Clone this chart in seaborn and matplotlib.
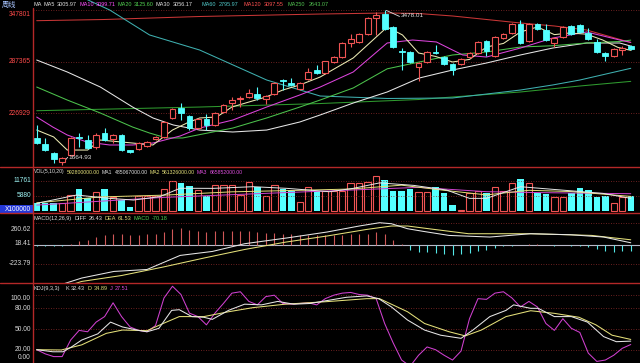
import matplotlib
matplotlib.use("Agg")
import matplotlib.pyplot as plt
import numpy as np
import pandas as pd
import seaborn as sns
from matplotlib.lines import Line2D
from matplotlib.patches import Rectangle

# ---------------- data (weekly bars) ----------------
opens = [1981, 1910, 1805, 1700, 1782, 1992, 1957, 1875, 2039, 1969,
         2016, 1840, 1852, 1887, 1969, 1992, 2214, 2331, 2238, 2097,
         2203, 2133, 2285, 2390, 2437, 2460, 2495, 2437, 2495, 2655,
         2624, 2554, 2671, 2776, 2741, 2870, 2928, 3092, 3104, 3197,
         3384, 3431, 3279, 2998, 2987, 2811, 2870, 2987, 2928, 2846,
         2846, 2928, 2975, 3115, 2940, 3150, 3209, 3314, 3115, 3314,
         3244, 3092, 3162, 3291, 3302, 3209, 3104, 2975, 2940, 3010, 3057]
highs = [2133, 1980, 1815, 1760, 1995, 2039, 2016, 2039, 2097, 2030,
         2030, 1845, 1930, 1945, 2004, 2180, 2330, 2390, 2250, 2215,
         2262, 2285, 2378, 2460, 2470, 2554, 2577, 2480, 2630, 2671,
         2682, 2635, 2800, 2835, 2885, 2945, 3100, 3197, 3210, 3395,
         3455, 3478.01, 3290, 3033, 3000, 2870, 3000, 3069, 2940, 2860,
         2915, 2990, 3115, 3125, 3175, 3210, 3325, 3361, 3325, 3330,
         3314, 3160, 3290, 3300, 3314, 3267, 3140, 2987, 3035, 3060, 3065]
lows = [1915, 1830, 1690, 1664.93, 1770, 1875, 1852, 1852, 1945, 1922,
        1830, 1810, 1845, 1880, 1957, 1985, 2205, 2191, 2075, 2085,
        2080, 2120, 2273, 2308, 2343, 2450, 2420, 2378, 2485, 2542,
        2590, 2545, 2660, 2725, 2730, 2858, 2915, 3045, 3090, 3185,
        3186, 3245, 3035, 2776, 2860, 2647, 2860, 2965, 2835, 2718,
        2835, 2915, 2965, 2940, 2930, 3140, 3200, 3080, 3105, 3240,
        3115, 3040, 3150, 3185, 3210, 3130, 2975, 2881, 2930, 2950, 3015]
closes = [1922, 1840, 1735, 1746, 1980, 1980, 1863, 2016, 1957, 2016,
          1840, 1817, 1922, 1934, 1992, 2167, 2320, 2273, 2097, 2203,
          2133, 2273, 2367, 2425, 2448, 2507, 2448, 2472, 2624, 2642,
          2600, 2624, 2753, 2741, 2876, 2928, 3092, 3139, 3197, 3384,
          3420, 3256, 3045, 2987, 2870, 2858, 2987, 2975, 2846, 2776,
          2905, 2975, 3104, 2998, 3162, 3197, 3314, 3092, 3314, 3256,
          3127, 3150, 3279, 3197, 3221, 3139, 2987, 2940, 3022, 3030, 3022]
volumes = [2875, 2875, 2875, 2875, 6143, 8496, 5097, 7450, 8365, 5228,
           4182, 1307, 5751, 5751, 5751, 8365, 11763, 10717, 9672, 8103,
           5751, 10064, 10064, 10064, 6143, 11110, 9410, 5751, 10064, 8365,
           7842, 3529, 9410, 7842, 7842, 7842, 7842, 10717, 10717, 11371,
           13593, 12024, 7842, 7842, 8365, 7450, 7450, 9410, 6796, 2222,
           261, 6796, 7842, 7058, 9149, 7842, 10717, 12417, 10717, 7058,
           6535, 5228, 5228, 7058, 8757, 8103, 5228, 5751, 2875, 5489, 5928]

# moving averages of price (sampled along the bar index)
ma5_idx = [0, 2, 3.6, 6, 7.5, 11.3, 13.7, 16, 17.7, 19.2, 21.2, 23, 27, 29, 31, 33.4, 37.3,
           41.3, 43.1, 45, 47, 49, 51, 53, 55, 57, 59, 61, 62.8, 64.8, 66.7, 68.5, 70]
ma5_val = [2074, 1993, 1840, 1840, 1957, 1922, 1899, 2074, 2156, 2215, 2226, 2343, 2460, 2542,
           2601, 2694, 2917, 3279, 3186, 2975, 2935, 2870, 2900, 3045, 3087, 3221, 3279, 3190,
           3209, 3195, 3127, 3040, 3005.97]
ma10_idx = [0, 1.9, 3.6, 5.9, 8.6, 11.3, 13.7, 16.9, 19.2, 23.1, 27.1, 31, 33.4, 37.3, 41.3,
            44.3, 47.1, 49, 50.2, 53, 57, 60.8, 64.8, 68.7, 70]
ma10_val = [2226, 2109, 2016, 1934, 1899, 1899, 1922, 2004, 2097, 2191, 2343, 2484, 2577, 2753,
            3092, 3127, 3104, 3010, 2952, 2928, 3033, 3150, 3221, 3127, 3099.71]
ma20_idx = [0, 3.6, 7.5, 11.3, 13.3, 15.3, 17.2, 23.1, 27.1, 31, 33.4, 37.3, 41.3, 45.1, 49,
            53, 57, 60.8, 64.8, 68.7, 70]
ma20_val = [2577, 2425, 2273, 2109, 2039, 1981, 1981, 2097, 2215, 2343, 2425, 2566, 2790, 2870,
            2952, 2987, 3045, 3060, 3092, 3110, 3125.60]
ma30_idx = [0, 3.6, 7.5, 11.3, 13.7, 16.1, 19.2, 23.1, 27.1, 31, 33.4, 37.3, 41.3, 45.1, 49,
            53, 57, 60.8, 64.8, 68.7, 70]
ma30_val = [2893, 2753, 2577, 2343, 2215, 2133, 2074, 2051, 2074, 2168, 2250, 2390, 2519, 2683,
            2776, 2858, 2952, 3033, 3092, 3092, 3056.17]
ma60_idx = [0, 4, 8.6, 13.3, 19.2, 27.1, 33.4, 41.3, 49, 53, 57, 60.8, 64, 70]
ma60_val = [3888, 3689, 3478, 3186, 3010, 2659, 2472, 2443, 2449, 2495, 2542, 2601, 2659, 2795.97]
ma120_idx = [0, 8, 19.2, 33.4, 41.3, 45, 49, 53, 57, 61, 64.8, 70]
ma120_val = [3353, 3367, 3402, 3431, 3443, 3437, 3408, 3367, 3326, 3291, 3244, 3097.55]
ma250_idx = [0, 19.2, 33.4, 45, 57, 64, 70]
ma250_val = [2300, 2343, 2384, 2431, 2519, 2589, 2643.07]

# volume moving averages (x100000)
vma1_idx = [0, 4.7, 8.6, 11.4, 14.5, 16.9, 20.8, 25.5, 29.5, 34.5, 37.3, 40.4, 44.4, 48.3, 51,
            53, 57, 62.8, 66.7, 70]
vma1_val = [2875, 6143, 4836, 4182, 5489, 8800, 8757, 9410, 8757, 7450, 8757, 10900, 9933, 8103,
            4836, 4836, 9400, 7842, 6796, 4850.67]
vma2_idx = [0, 7.5, 15, 23, 31, 37, 43, 48, 53, 58, 63, 70]
vma2_val = [3100, 5400, 6100, 7400, 8000, 8500, 10000, 8000, 6200, 8000, 7500, 5613.26]
vma3_idx = [0, 15, 27, 37, 45, 53, 60, 70]
vma3_val = [2200, 5228, 6800, 8100, 9150, 7450, 7058, 6658.52]

# MACD(12,26,9)
macd_hist = [-10, -8, -12, -6, 16, 47, 63, 94, 114, 126,
             126, 114, 114, 126, 134, 153, 193, 201, 173, 161,
             153, 161, 165, 165, 165, 161, 153, 142, 142, 134,
             126, 114, 114, 114, 114, 114, 114, 126, 126, 134,
             153, 126, 63, 16, -55, -83, -83, -94, -102, -122,
             -102, -94, -71, -55, -31, -16, -8, 5, 8, 6,
             -4, -6, 3, -10, -15, -20, -43, -71, -83, -71, -70.18]
diff_idx = [0, 5.3, 9.1, 13, 16.9, 20.7, 24.5, 29.4, 34.2, 38, 40.4, 41.8, 43.7, 45.6, 48.6,
            53.4, 58.2, 62.9, 66.8, 70]
diff_val = [-560, -390, -312, -289, -123, -76, 15, 82, 153, 224, 263, 251, 192, 160, 113,
            94, 133, 121, 94, 26.43]
dea_idx = [0, 5.3, 10, 14.9, 19.7, 24.5, 29.4, 34.2, 38.9, 41.8, 43.7, 46.2, 50.9, 58.2, 65.4, 70]
dea_val = [-600, -430, -360, -260, -154, -53, 35, 106, 184, 224, 224, 192, 133, 133, 113, 61.53]

# KDJ(9,3,3)
k_idx = [0, 1.9, 3.1, 4.1, 5.3, 7.2, 8.7, 10.1, 12, 13, 14.4, 15.9, 16.8, 18.3, 19.7, 20.7,
         22.6, 24.5, 26.5, 28.4, 30.3, 32.2, 34.1, 36.5, 38.9, 40.3, 41.8, 43.7, 45.7, 47.6,
         50, 51.4, 53.4, 55.3, 56.2, 58.2, 59.1, 61, 63, 64.9, 66.8, 68.3, 70]
k_val = [20, 17, 17, 24, 34, 43, 60, 53, 48, 46, 51, 77, 78, 68, 67, 64, 77, 86, 85, 90, 86,
         87, 91, 96, 98, 94, 82, 63, 48.5, 41, 36.5, 48.5, 68, 77, 85, 80, 80, 68, 68, 60, 39,
         31.6, 32.43]
d_idx = [0, 2.9, 5.3, 8.2, 10.1, 13, 14.9, 16.8, 19.7, 22.6, 25.5, 29.3, 34.1, 38.9, 40.4,
         43.7, 45.7, 48.6, 50.5, 52.4, 55.3, 58.2, 61, 63.9, 65.9, 67.8, 70]
d_val = [20, 19.6, 27, 43.7, 48.5, 47.6, 58, 68, 68, 75, 81, 86, 89.6, 94, 94, 75, 58, 46, 40,
         48.5, 68, 76.5, 72.7, 67, 56, 41, 34.89]
j_val = [20, 14, 10, 10, 34, 48, 46, 60, 68, 88,
         68, 53, 48, 46, 55, 95, 112, 100, 73, 68,
         56, 73, 87, 102, 104, 90, 85, 97, 99, 87,
         86, 87, 88, 85, 94, 99, 102, 103, 100, 99,
         94, 58, 30, 5, -4, 12, 24, 20, 12, 5,
         18, 65, 94, 93, 102, 104, 95, 82, 90, 82,
         58, 48, 65, 51, 45, 15, 3, 5, 12, 22, 27.51]

# axis tick labels
price_ticks = [3478.01, 2873.65, 2269.29]
price_labels = ["347801", "287365", "226929"]
vol_ticks = [11761, 5880]
macd_ticks = [260.62, 18.41, -223.79]
kdj_ticks = [100, 80, 50, 20, 0]

# ---------------- drawing ----------------
W, H = 640, 363
sns.set_style("dark")
FONT = ['Liberation Sans', 'DejaVu Sans']
plt.rcParams['font.family'] = FONT

RED = '#f05454'
CYAN = '#54ffff'
GRIDC = '#8c2a2a'
SEP = '#b42828'

fig = plt.figure(figsize=(6.4, 3.63), dpi=100, facecolor='black')
renderer = fig.canvas.get_renderer()


def px_axes(y0, y1, x0=33, x1=640):
    ax = fig.add_axes([x0 / W, 1 - y1 / H, (x1 - x0) / W, (y1 - y0) / H])
    ax.set_facecolor('black')
    ax.grid(False)
    for s in ax.spines.values():
        s.set_visible(False)
    ax.set_xticks([])
    ax.set_yticks([])
    return ax


def ftext(x, y, s, color, size=4.6, ha='left', va='center', family=None, **kw):
    return fig.text(x / W, 1 - y / H, s, color=color, fontsize=size, ha=ha, va=va,
                    family=family or FONT, **kw)


def text_row(y, segments, size, gap=2.0):
    end = 0
    for xx, s, col in segments:
        xx = max(xx, end + gap)
        t = ftext(xx, y, s, col, size=size)
        bb = t.get_window_extent(renderer=renderer)
        end = bb.x1


XL = (-0.436, 71.09)
ax_main = px_axes(0, 167)
ax_vol = px_axes(167, 213)
ax_macd = px_axes(213, 283)
ax_kdj = px_axes(283, 363)

ax_main.set_ylim(1641.6, 3595.0)
ax_vol.set_ylim(-902, 17133)
ax_macd.set_ylim(-448.4, 377.6)
ax_kdj.set_ylim(0.72, 116.7)

n = len(closes)
x = np.arange(n)
o = np.array(opens, float)
c = np.array(closes, float)
hi = np.array(highs, float)
lo = np.array(lows, float)
up = c >= o
top = np.maximum(o, c)
bot = np.minimum(o, c)
bw = 0.68

# grid lines
for p in price_ticks:
    ax_main.axhline(p, color=GRIDC, lw=0.6, ls=(0, (1, 2)))
for v in vol_ticks:
    ax_vol.axhline(v, color=GRIDC, lw=0.6, ls=(0, (1, 2)))
for v in [260.62, -223.79]:
    ax_macd.axhline(v, color=GRIDC, lw=0.6, ls=(0, (1, 2)))
for v in [100, 80, 50, 20]:
    ax_kdj.axhline(v, color=GRIDC, lw=0.6, ls=(0, (1, 2)))

# moving-average lines of price
for xs, ys, col in [(ma250_idx, ma250_val, '#2f9a2f'), (ma120_idx, ma120_val, '#c83636'),
                    (ma60_idx, ma60_val, '#3fb0b0'), (ma30_idx, ma30_val, '#e6e6e6'),
                    (ma20_idx, ma20_val, '#4cc24c'), (ma10_idx, ma10_val, '#dc44dc'),
                    (ma5_idx, ma5_val, '#ecebb4')]:
    sns.lineplot(x=xs, y=ys, ax=ax_main, color=col, linewidth=0.75, sort=True)

# candles
ax_main.vlines(x[up], hi[up], top[up], color=RED, lw=0.8)
ax_main.vlines(x[up], lo[up], bot[up], color=RED, lw=0.8)
ax_main.vlines(x[~up], lo[~up], hi[~up], color=CYAN, lw=0.8)
hgt = np.maximum(top - bot, 6)
ax_main.bar(x[up], hgt[up], bottom=bot[up], width=bw, facecolor='black',
            edgecolor=RED, linewidth=0.8, zorder=3)
ax_main.bar(x[~up], hgt[~up], bottom=bot[~up], width=bw, facecolor=CYAN,
            edgecolor=CYAN, linewidth=0.6, zorder=3)

# extreme annotations
i_lo = int(np.argmin(lo))
i_hi = int(np.argmax(hi))
ax_main.plot([i_lo + 0.1, i_lo + 0.65], [lo[i_lo] + 25, lo[i_lo] + 90], color='#e0e0e0', lw=0.6)
ax_main.text(i_lo + 0.7, lo[i_lo] + 90, f"{lo[i_lo]:.2f}", color='#e0e0e0', fontsize=4.6,
             va='center', ha='left')
ax_main.plot([i_hi + 0.2, i_hi + 1.75], [hi[i_hi] - 5, hi[i_hi] - 75], color='#e0e0e0', lw=0.6)
ax_main.text(i_hi + 1.85, hi[i_hi] - 60, f"{hi[i_hi]:.2f}", color='#e0e0e0', fontsize=4.6,
             va='center', ha='left')

# volume bars (seaborn, one call, colour by direction)
vol = np.array(volumes, float)
vdf = pd.DataFrame({"week": x, "vol": vol, "dir": np.where(up, "up", "down")})
sns.barplot(data=vdf, x="week", y="vol", hue="dir", native_scale=True, dodge=False,
            palette={"up": RED, "down": CYAN}, width=0.76, errorbar=None, ax=ax_vol,
            saturation=1, legend=False)
for patch in ax_vol.patches:
    fc = matplotlib.colors.to_hex(patch.get_facecolor())
    if fc.lower() == RED.lower():
        patch.set_facecolor('black')
        patch.set_edgecolor(RED)
        patch.set_linewidth(0.8)
    else:
        patch.set_edgecolor(CYAN)
        patch.set_linewidth(0)
for xs, ys, col in [(vma3_idx, vma3_val, '#d044d0'), (vma2_idx, vma2_val, '#e4e07a'),
                    (vma1_idx, vma1_val, '#e6e6e6')]:
    sns.lineplot(x=xs, y=ys, ax=ax_vol, color=col, linewidth=0.7)

# MACD
hist = np.array(macd_hist, float)
ax_macd.axhline(0, color='#b8b8c8', lw=0.8)
ax_macd.vlines(x[hist > 0], 0, hist[hist > 0], color='#d05858', lw=0.8)
ax_macd.vlines(x[hist <= 0], 0, hist[hist <= 0], color='#54e8e8', lw=0.8)
sns.lineplot(x=dea_idx, y=dea_val, ax=ax_macd, color='#e4e07a', linewidth=0.75)
sns.lineplot(x=diff_idx, y=diff_val, ax=ax_macd, color='#e6e6e6', linewidth=0.75)

# KDJ
sns.lineplot(x=list(x), y=j_val, ax=ax_kdj, color='#d040d0', linewidth=0.75)
sns.lineplot(x=d_idx, y=d_val, ax=ax_kdj, color='#e4e07a', linewidth=0.75)
sns.lineplot(x=k_idx, y=k_val, ax=ax_kdj, color='#e6e6e6', linewidth=0.75)

for ax in (ax_main, ax_vol, ax_macd, ax_kdj):
    ax.set_xlim(*XL)
    ax.set_xlabel('')
    ax.set_ylabel('')
    ax.set_xticks([])
    ax.set_yticks([])
    if ax.get_legend():
        ax.get_legend().remove()

# separators / frame
for yy in (167, 213, 283):
    fig.add_artist(Line2D([0, 1], [1 - yy / H] * 2, color=SEP, lw=1.0))
fig.add_artist(Line2D([33 / W, 33 / W], [0, 1 - 8 / H], color=SEP, lw=1.0))


# left axis labels
def ypix(ax, v, y0, y1):
    lo_, hi_ = ax.get_ylim()
    return y1 - (v - lo_) / (hi_ - lo_) * (y1 - y0)


LS = 4.8
for p, lab in zip(price_ticks, price_labels):
    yy = ypix(ax_main, p, 0, 167)
    ftext(31, max(yy, 15), lab, '#ff4a4a', size=LS, ha='right')
for v in vol_ticks:
    ftext(31, ypix(ax_vol, v, 167, 213), str(v), '#9ef4f4', size=LS, ha='right')
fig.add_artist(Rectangle((0, 1 - 213 / H), 33 / W, 8 / H, transform=fig.transFigure,
                         facecolor='#2438d8', edgecolor='none'))
ftext(31, 209, "X100000", '#ffffff', size=LS, ha='right')
for v in macd_ticks:
    yy = ypix(ax_macd, v, 213, 283)
    ftext(31, max(yy, 229), f"{v:.2f}", '#d8d8d8', size=LS, ha='right')
for v in kdj_ticks:
    yy = ypix(ax_kdj, v, 283, 363)
    ftext(31, min(max(yy, 299), 357.5), f"{v:.2f}", '#d8d8d8', size=LS, ha='right')

# header rows
HS = 4.0
ftext(2, 5, "周线", '#a8c4ff', size=5.2, family=['Noto Sans CJK SC', 'DejaVu Sans'])
head_main = [(33, "MA", '#e0e0e0'), (42, "MA5", '#e0e0e0'), (54, f"{ma5_val[-1]:.2f}", '#e0e0e0'),
             (79, "MA10", '#ff50ff'), (91, f"{ma10_val[-1]:.2f}", '#ff50ff'),
             (111, "MA20", '#50d050'), (125, f"{ma20_val[-1]:.2f}", '#50d050'),
             (154, "MA30", '#e0e0e0'), (168, f"{ma30_val[-1]:.2f}", '#e0e0e0'),
             (202, "MA60", '#50c8c8'), (217, f"{ma60_val[-1]:.2f}", '#50c8c8'),
             (244, "MA120", '#ff5050'), (262, f"{ma120_val[-1]:.2f}", '#ff5050'),
             (287, "MA250", '#50c050'), (309, f"{ma250_val[-1]:.2f}", '#50c050')]
text_row(4.5, head_main, HS)

head_vol = [(34, "VOL(5,10,20)", '#e0e0e0'), (67, f"{vol[-1] * 100000:.2f}", '#e4e07a'),
            (100, "MA1", '#e0e0e0'), (110, f"{vma1_val[-1] * 100000:.2f}", '#e0e0e0'),
            (144, "MA2", '#e4e07a'), (155, f"{vma2_val[-1] * 100000:.2f}", '#e4e07a'),
            (187, "MA3", '#e050e0'), (198, f"{vma3_val[-1] * 100000:.2f}", '#e050e0')]
text_row(172, head_vol, 3.7)

head_macd = [(34, "MACD(12,26,9)", '#e0e0e0'), (74, "DIFF", '#e0e0e0'),
             (87, f"{diff_val[-1]:.2f}", '#e0e0e0'), (104, "DEA", '#e4e07a'),
             (114, f"{dea_val[-1]:.2f}", '#e4e07a'), (130, "MACD", '#50d050'),
             (143, f"{macd_hist[-1]:.2f}", '#50d050')]
text_row(218.5, head_macd, HS)

head_kdj = [(34, "KDJ(9,3,3)", '#e0e0e0'), (65, "K", '#e0e0e0'), (70, f"{k_val[-1]:.2f}", '#e0e0e0'),
            (88, "D", '#e4e07a'), (93, f"{d_val[-1]:.2f}", '#e4e07a'),
            (109, "J", '#e050e0'), (114, f"{j_val[-1]:.2f}", '#e050e0')]
text_row(288.5, head_kdj, HS)

fig.savefig("out.png", dpi=100, facecolor='black')
